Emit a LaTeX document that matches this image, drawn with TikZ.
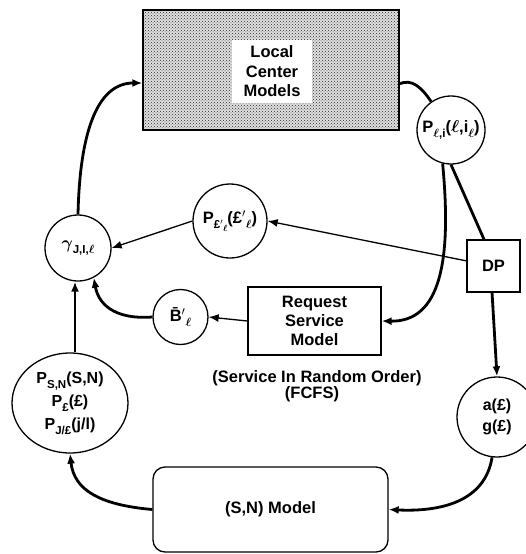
\documentclass[tikz,border=0pt]{standalone}
\usepackage{amsmath}
\usepackage{fontspec}
\setmainfont{Liberation Sans}
\usetikzlibrary{arrows.meta,patterns,shapes.geometric}
\newcommand\dn[1]{\raisebox{-0.6ex}{\fontsize{11.5}{12}\selectfont #1}}
\newcommand\ddn[1]{\raisebox{-0.5ex}{\fontsize{9}{10}\selectfont #1}}
\newcommand\el{\ensuremath{\boldsymbol{\ell}}}
\begin{document}
\begin{tikzpicture}[x=1pt,y=-1pt,
  font=\bfseries\fontsize{16.5}{19}\selectfont,
  thk/.style={line width=2.8pt},
  thn/.style={line width=1.3pt},
  arr/.style={-{Latex[length=10pt,width=8pt]}},
  circ/.style={circle, draw, line width=1.3pt, inner sep=0pt, align=center},
  box/.style={draw, line width=1.3pt, inner sep=0pt, align=center}]
\useasboundingbox (0,0) rectangle (526,554);

% nodes
\node[box, minimum width=256pt, minimum height=120pt, preaction={fill=black!12},
      pattern=crosshatch dots, pattern color=black!85] (lcm) at (271,70) {};
\node[fill=white, minimum width=80pt, minimum height=63pt, inner sep=0pt, align=center,
      font=\bfseries\fontsize{16.5}{19.5}\selectfont] (lcmt) at (272,71.5) {Local\\Center\\Models};
\node[circ, minimum size=68pt] (pc) at (451,130) {P\dn{\el,i}(\el,i\dn{\el})};
\node[box, minimum width=53pt, minimum height=52pt] (dp) at (493.5,266) {DP};
\node[circ, minimum size=74pt] (pf) at (230,221) {P\dn{£$'$\ddn{\el}}(£$'$\dn{\el})};
\node[circ, minimum size=66pt] (gam) at (78,248) {$\boldsymbol\gamma$\dn{J,I,\el}};
\node[box, minimum width=133pt, minimum height=68pt] (req) at (314.5,321) {Request\\Service\\Model};
\node[circ, minimum size=55pt] (bp) at (180.5,317) {\={B}$'$\dn{\el}};
\node (srn) at (317,378) {(Service In Random Order)};
\node (fcfs) at (312,394) {(FCFS)};
\node[ellipse, draw, line width=1.3pt, minimum width=116pt, minimum height=100pt, inner sep=0pt, align=center,
      font=\bfseries\fontsize{16}{23}\selectfont] (ell) at (70,403) {P\dn{S,N}(S,N)\\P\dn{£}(£)\\P\dn{J/£}(j/l)};
\node[circ, minimum size=80pt, font=\bfseries\fontsize{16}{21}\selectfont] (ag) at (497,417) {a(£)\\g(£)};
\node[draw, rounded corners=12pt, line width=1.3pt, minimum width=235pt, minimum height=85pt] (sn) at (270.5,509.5) {(S,N) Model};

% connectors
\coordinate (lcmr) at (399,84);
\draw[thk] (lcmr) .. controls (412,78) and (422,88) .. (pc.125);
\draw[thk, arr] (pc.256) .. controls (452,262) and (440,322) .. (req.east);
\draw[thk] (pc.270) -- (dp.north -| 484,0);
\coordinate (dpb) at (492,292);
\draw[thk, arr] (dpb) -- (ag.north);
\coordinate (dpl) at (467,261);
\draw[thn, arr] (dpl) -- (pf.east);
\draw[thn, arr] (pf.west) -- (gam.east);
\draw[thn, arr] (req.west) -- (bp.east);
\draw[thk, arr] (bp.west) .. controls (112,320) and (98,302) .. (gam.-62);
\draw[thk, arr] (ell.north -| 75,0) -- (gam.south -| 75,0);
\draw[thk, arr] (gam.north) .. controls (80,125) and (100,83) .. (lcm.west |- 0,83);
\draw[thk, arr] (sn.west) .. controls (100,505) and (74,490) .. (ell.south);
\draw[thk, arr] (ag.263) .. controls (485,502) and (440,512) .. (sn.east);
\end{tikzpicture}
\end{document}
